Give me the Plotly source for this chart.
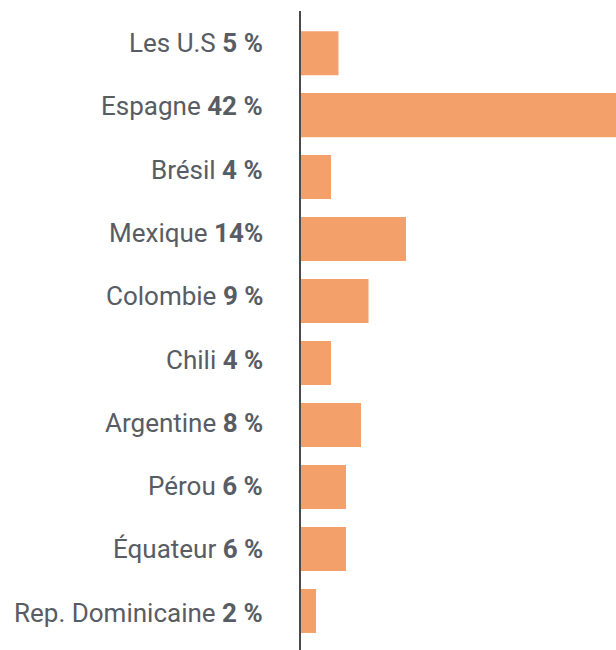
import plotly.graph_objects as go

countries = ["Les U.S", "Espagne", "Brésil", "Mexique", "Colombie", "Chili",
             "Argentine", "Pérou", "Équateur", "Rep. Dominicaine"]
values = [5, 42, 4, 14, 9, 4, 8, 6, 6, 2]
value_labels = ["5 %", "42 %", "4 %", "14%", "9 %", "4 %", "8 %", "6 %", "6 %", "2 %"]

label_texts = [f"{c} <b>{v}</b>" for c, v in zip(countries, value_labels)]
ypos = list(range(len(countries)))

fig = go.Figure(go.Bar(
    x=values, y=ypos, orientation="h",
    marker=dict(color="#F3A06B", line=dict(width=0)),
    width=0.71,
))
# helper (empty) trace so the label axis exists
fig.add_trace(go.Scatter(x=[], y=[], yaxis="y2", showlegend=False, hoverinfo="skip"))

for yi, txt in zip(ypos, label_texts):
    fig.add_annotation(
        x=0, xref="paper", y=yi, yref="y2", text=txt, showarrow=False,
        xanchor="right", yanchor="middle", xshift=-36, yshift=0,
        font=dict(family="Roboto", size=26, color="#585C63"),
    )

fig.update_layout(
    width=616, height=650,
    margin=dict(l=301, r=0, t=11, b=0),
    paper_bgcolor="white", plot_bgcolor="white",
    showlegend=False,
    font=dict(family="Roboto", size=26, color="#585C63"),
    xaxis=dict(range=[0, 42], showgrid=False, zeroline=False,
               showticklabels=False, showline=False, fixedrange=True),
    yaxis=dict(range=[9.63, -0.68], showgrid=False, zeroline=False,
               showticklabels=False, showline=True,
               linecolor="#4A4A4A", linewidth=1.5,
               ticks="", fixedrange=True),
    yaxis2=dict(range=[9.589, -0.5055], overlaying="y", visible=False,
                fixedrange=True),
)

fig.write_html("out.html")
